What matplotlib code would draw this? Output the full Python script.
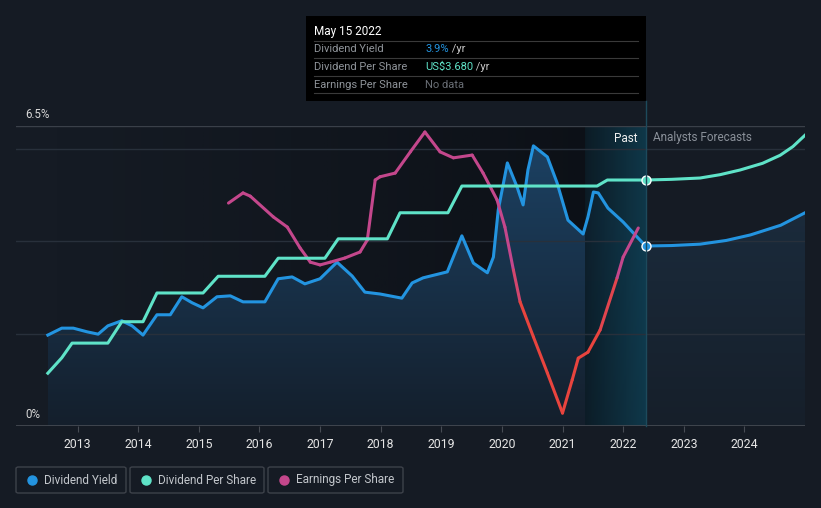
import numpy as np
import matplotlib
matplotlib.use("Agg")
import matplotlib.pyplot as plt
from matplotlib.collections import LineCollection
from matplotlib.colors import LinearSegmentedColormap, to_rgb
from matplotlib.patches import Rectangle, FancyBboxPatch
from matplotlib.lines import Line2D

plt.rcParams["font.family"] = ["Roboto", "DejaVu Sans"]

# ---------------------------------------------------------------- data
# dividend yield (%), past + analyst forecast
yield_x = [2012.51, 2012.74, 2012.93, 2013.16, 2013.34, 2013.50, 2013.73, 2013.90,
           2014.08, 2014.31, 2014.53, 2014.72, 2014.89, 2015.07, 2015.30, 2015.52,
           2015.73, 2016.09, 2016.31, 2016.54, 2016.75, 2017.00, 2017.28, 2017.53,
           2017.74, 2017.99, 2018.35, 2018.52, 2018.70, 2019.10, 2019.34, 2019.53,
           2019.76, 2019.86, 2019.94, 2020.09, 2020.25, 2020.35, 2020.43, 2020.52,
           2020.75, 2020.91, 2021.09, 2021.34, 2021.42, 2021.51, 2021.59, 2021.75,
           2022.00, 2022.17, 2022.37]
yield_v = [1.97, 2.12, 2.12, 2.04, 1.99, 2.17, 2.28, 2.17,
           1.97, 2.41, 2.41, 2.80, 2.67, 2.56, 2.80, 2.82,
           2.69, 2.69, 3.19, 3.23, 3.08, 3.19, 3.55, 3.25,
           2.90, 2.86, 2.77, 3.10, 3.21, 3.34, 4.12, 3.53,
           3.32, 3.66, 4.68, 5.70, 5.18, 4.79, 5.55, 6.07,
           5.83, 5.27, 4.46, 4.16, 4.53, 5.07, 5.05, 4.72,
           4.42, 4.18, 3.90]
yield_fc_x = [2022.37, 2022.80, 2023.27, 2023.70, 2024.10, 2024.60, 2025.00]
yield_fc_v = [3.90, 3.91, 3.94, 4.02, 4.14, 4.35, 4.62]

# dividend per share (US$)
dps_x = [2012.51, 2012.74, 2012.91, 2013.50, 2013.73, 2014.08, 2014.31, 2015.07,
         2015.32, 2016.09, 2016.31, 2017.08, 2017.30, 2018.11, 2018.32, 2019.11,
         2019.34, 2021.57, 2021.74, 2022.37]
dps_v = [0.79, 1.02, 1.24, 1.24, 1.56, 1.56, 1.99, 1.99,
         2.24, 2.24, 2.51, 2.51, 2.80, 2.80, 3.19, 3.19,
         3.59, 3.59, 3.68, 3.68]
dps_fc_x = [2022.37, 2022.80, 2023.27, 2023.60, 2023.93, 2024.30, 2024.59, 2024.80, 2025.00]
dps_fc_v = [3.68, 3.69, 3.71, 3.76, 3.83, 3.93, 4.05, 4.18, 4.35]

# earnings per share (relative scale)
eps_x = [2015.49, 2015.73, 2015.85, 2016.23, 2016.46, 2016.67, 2016.84, 2017.00,
         2017.17, 2017.41, 2017.66, 2017.78, 2017.91, 2017.99, 2018.24, 2018.49,
         2018.73, 2018.98, 2019.20, 2019.51, 2019.69, 2019.92, 2020.05, 2020.19,
         2020.30, 2020.52, 2020.75, 2021.00, 2021.16, 2021.26, 2021.42, 2021.62,
         2021.90, 2022.00, 2022.25]
eps_v = [4.83, 5.05, 4.98, 4.53, 4.31, 3.86, 3.55, 3.49,
         3.55, 3.64, 3.77, 4.03, 5.33, 5.40, 5.48, 5.94,
         6.37, 5.94, 5.81, 5.87, 5.48, 4.90, 4.31, 3.38,
         2.69, 1.93, 1.15, 0.28, 1.00, 1.47, 1.60, 2.08,
         3.21, 3.66, 4.29]

years = list(range(2013, 2025))
past_start, today = 2021.37, 2022.37

# ---------------------------------------------------------------- style
BG = "#151b24"
C_YIELD = "#2394e0"
C_DPS = "#5fe3c8"
C_EPS_HI = "#c4478c"
C_EPS_LO = "#e8443e"
W, H = 821, 508


def px(x, y):
    return x / W, 1 - y / H


fig = plt.figure(figsize=(W / 100, H / 100), dpi=100, facecolor=BG)
ax = fig.add_axes([16 / W, (H - 426) / H, (805 - 16) / W, 300 / H])
ax.set_facecolor(BG)

for s in ax.spines.values():
    s.set_visible(False)
for g in (2, 4, 6):
    ax.axhline(g, color="#28303b", lw=1, zorder=4)
ax.axhline(6.5, color="#3a4049", lw=1, zorder=4)
ax.axhline(0, color="#474c54", lw=1.2, zorder=6)

ax.set_xticks(years)
ax.set_xticklabels([str(y) for y in years], color="#e6e6e6", fontsize=8.8)
ax.tick_params(axis="x", length=4, color="#474c54", pad=5)
ax.set_yticks([])

# past darkening of the background (horizontal gradient)
dark = np.zeros((1, 256, 4))
dark[..., :3] = to_rgb("#080b10")
dark[..., 3] = np.linspace(0, 0.7, 256) ** 1.2
ax.imshow(dark, aspect="auto", extent=(yield_x[0], past_start, 0, 6.5), zorder=1)

# yield area: vertical gradient clipped to the area under the line
grad = np.linspace(0, 1, 256).reshape(-1, 1)
past_cmap = LinearSegmentedColormap.from_list("p", ["#141f2c", "#1c4264"])
fc_cmap = LinearSegmentedColormap.from_list("f", ["#161f2a", "#1c2f42"])
for xs, vs, cm in ((yield_x, yield_v, past_cmap), (yield_fc_x, yield_fc_v, fc_cmap)):
    area = ax.fill_between(xs, vs, 0, color="none", lw=0)
    im = ax.imshow(grad, cmap=cm, aspect="auto", origin="lower",
                   extent=(xs[0], xs[-1], 0, 6.3), zorder=2)
    im.set_clip_path(area.get_paths()[0], transform=ax.transData)

# teal band before "today"
band = np.zeros((1, 256, 4))
lo, hi = np.array(to_rgb("#0b1c26")), np.array(to_rgb("#0e3d50"))
t = np.linspace(0, 1, 256)[:, None]
band[0, :, :3] = lo * (1 - t) + hi * t
band[0, :, 3] = 0.85
ax.imshow(band, aspect="auto", extent=(past_start, today, 0, 6.5), zorder=3)
ax.set_xlim(2011.985, 2025.0)
ax.set_ylim(0, 6.5)

# lines
ax.plot(yield_x, yield_v, color=C_YIELD, lw=2.2, zorder=7, solid_joinstyle="round")
ax.plot(yield_fc_x, yield_fc_v, color=C_YIELD, lw=2.2, zorder=7)

ax2 = ax.twinx()
ax2.set_ylim(0, 4.488)
ax2.axis("off")
ax2.plot(dps_x, dps_v, color=C_DPS, lw=2.2, zorder=7, solid_joinstyle="round")
ax2.plot(dps_fc_x, dps_fc_v, color=C_DPS, lw=2.2, zorder=7)
ax2.scatter([today], [dps_v[-1]], s=42, color=C_DPS, edgecolor="white", lw=1, zorder=9)

eps_cmap = LinearSegmentedColormap.from_list(
    "eps", [(0, C_EPS_LO), (0.38, C_EPS_LO), (0.52, C_EPS_HI), (1, C_EPS_HI)])
pts = np.column_stack([eps_x, eps_v])
segs = np.stack([pts[:-1], pts[1:]], axis=1)
lc = LineCollection(segs, cmap=eps_cmap, lw=2.2, zorder=7, capstyle="round",
                    joinstyle="round")
lc.set_array((np.array(eps_v[:-1]) + np.array(eps_v[1:])) / 2)
lc.set_clim(0, 6.5)
ax.add_collection(lc)

ax.scatter([today], [yield_v[-1]], s=42, color=C_YIELD, edgecolor="white", lw=1, zorder=9)

# "today" marker line up to tooltip
fig.add_artist(Line2D([px(646, 0)[0]] * 2, [px(0, 426)[1], px(0, 101)[1]],
                      color="#1d4a5c", lw=1))

# labels in the plot
fig.text(*px(25, 115), "6.5%", color="#d8d8d8", fontsize=8.3, va="center")
fig.text(*px(25, 414), "0%", color="#d8d8d8", fontsize=8.3, va="center")
fig.text(*px(637, 138), "Past", color="#f0f0f0", fontsize=8.5, ha="right", va="center")
fig.text(*px(653, 138), "Analysts Forecasts", color="#8a9099", fontsize=8.5, va="center")

# tooltip
fig.add_artist(Rectangle(px(306, 101), 340 / W, 85 / H, transform=fig.transFigure,
                         facecolor="#000000", edgecolor="none"))
fig.text(*px(314, 31), "May 15 2022", color="white", fontsize=8.5, va="center")
for yy in (41, 58, 76, 93):
    fig.add_artist(Line2D([px(314, 0)[0], px(638, 0)[0]], [px(0, yy)[1]] * 2,
                          color="#3a3a3a", lw=0.8))
rows = [("Dividend Yield", "3.9%", C_YIELD, " /yr"),
        ("Dividend Per Share", "US$3.680", C_DPS, " /yr"),
        ("Earnings Per Share", "No data", "#6a6f76", "")]
for i, (lab, val, col, unit) in enumerate(rows):
    yy = 49 + 18 * i
    fig.text(*px(314, yy), lab, color="#8f949a", fontsize=8, va="center")
    tv = fig.text(*px(425, yy), val, color=col, fontsize=8, va="center")
    if unit:
        fig.canvas.draw()
        bb = tv.get_window_extent()
        fig.text(bb.x1 / W, 1 - yy / H, unit, color="#c8c8c8", fontsize=8, va="center")

# legend boxes
legend = [("Dividend Yield", C_YIELD, 16, 126),
          ("Dividend Per Share", C_DPS, 130, 264),
          ("Earnings Per Share", C_EPS_HI, 268, 403)]
for lab, col, x0, x1 in legend:
    fig.add_artist(FancyBboxPatch(px(x0, 493), (x1 - x0) / W, 26 / H,
                                  boxstyle="round,pad=0,rounding_size=0.003",
                                  transform=fig.transFigure, facecolor="none",
                                  edgecolor="#3d424a", lw=1))
    fig.add_artist(Line2D([px(x0 + 16, 0)[0]], [px(0, 480)[1]], marker="o",
                          markersize=6.5, color=col, lw=0))
    fig.text(*px(x0 + 28, 480), lab, color="#c3c7cc", fontsize=8.5, va="center")

fig.savefig("out.png", dpi=100, facecolor=BG)
